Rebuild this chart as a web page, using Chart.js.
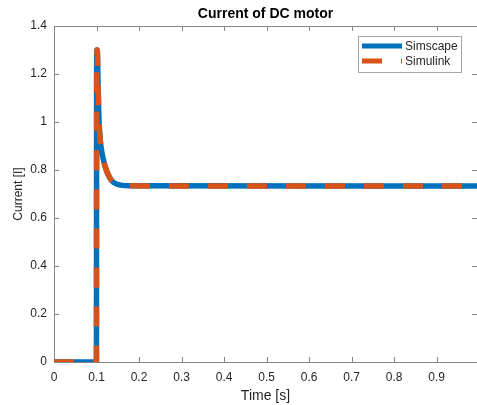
<!DOCTYPE html>
<html>
<head>
<meta charset="utf-8">
<script src="https://cdn.jsdelivr.net/npm/chart.js@4"></script>
<style>
  html, body { margin: 0; padding: 0; background: #fff; overflow: hidden; }
  #wrap { width: 477px; height: 405px; }
</style>
</head>
<body>
<div id="wrap"><canvas id="graphCourant" width="477" height="405"></canvas></div>
<script>
// ===== DONNÉES =====
var timeS = [0, 0.0998, 0.1003, 0.101, 0.1018, 0.1025, 0.1035, 0.1048, 0.106, 0.109, 0.113, 0.118, 0.123, 0.129, 0.136, 0.145, 0.157, 0.175, 0.995];
var currentSimscape = [0, 0, 1.22, 1.30, 1.30, 1.26, 1.17, 1.07, 1.00, 0.92, 0.87, 0.83, 0.80, 0.775, 0.755, 0.743, 0.737, 0.734, 0.733];
var currentSimulink = [0, 0, 1.22, 1.30, 1.30, 1.26, 1.17, 1.07, 1.00, 0.92, 0.87, 0.83, 0.80, 0.775, 0.755, 0.743, 0.737, 0.734, 0.733];
var xTicks = [0, 0.1, 0.2, 0.3, 0.4, 0.5, 0.6, 0.7, 0.8, 0.9];
var yTicks = [0, 0.2, 0.4, 0.6, 0.8, 1, 1.2, 1.4];

var BLEU = '#0072BD';
var ORANGE = '#D95319';
var POLICE = '"Liberation Sans", Arial, Helvetica, sans-serif';

function points(xs, ys) {
    return xs.map(function (x, i) { return { x: x, y: ys[i] }; });
}

// ---- cadre, graduations intérieures, titre et légende ----
var cadrePlugin = {
    id: 'cadre',
    beforeDatasetsDraw: function (chart) {
        var ctx = chart.ctx, ca = chart.chartArea;
        var sx = chart.scales.x, sy = chart.scales.y;
        ctx.save();
        ctx.strokeStyle = '#858585';
        ctx.lineWidth = 1;
        ctx.beginPath();
        ctx.moveTo(ca.left, ca.top + 0.5);
        ctx.lineTo(ca.right, ca.top + 0.5);
        sx.ticks.forEach(function (t) {
            var px = Math.round(sx.getPixelForValue(t.value)) + 0.5;
            ctx.moveTo(px, ca.bottom); ctx.lineTo(px, ca.bottom - 5);
            ctx.moveTo(px, ca.top); ctx.lineTo(px, ca.top + 5);
        });
        sy.ticks.forEach(function (t) {
            var py = Math.round(sy.getPixelForValue(t.value)) + 0.5;
            ctx.moveTo(ca.left, py); ctx.lineTo(ca.left + 5, py);
            ctx.moveTo(ca.right, py); ctx.lineTo(ca.right - 5, py);
        });
        ctx.stroke();
        ctx.restore();
    },
    afterDraw: function (chart) {
        var ctx = chart.ctx, ca = chart.chartArea;
        ctx.save();
        // titre
        ctx.fillStyle = '#000';
        ctx.font = 'bold 14px ' + POLICE;
        ctx.textAlign = 'center';
        ctx.textBaseline = 'middle';
        ctx.fillText('Current of DC motor', (ca.left + ca.right) / 2, 14);

        // légende
        var bx = 358, by = 36, bw = 103, bh = 36;
        ctx.fillStyle = '#fff';
        ctx.fillRect(bx, by, bw, bh);
        ctx.strokeStyle = '#a6a6a6';
        ctx.lineWidth = 1;
        ctx.strokeRect(bx + 0.5, by + 0.5, bw, bh);
        ctx.font = '12px ' + POLICE;
        ctx.textAlign = 'left';
        chart.data.datasets.forEach(function (ds, i) {
            var y = by + 10 + i * 15;
            ctx.strokeStyle = ds.borderColor;
            ctx.lineWidth = 5;
            ctx.lineCap = 'butt';
            ctx.lineDashOffset = 0;
            ctx.setLineDash(ds.borderDash || []);
            ctx.beginPath();
            ctx.moveTo(362, y);
            ctx.lineTo(402, y);
            ctx.stroke();
            ctx.setLineDash([]);
            ctx.fillStyle = '#262626';
            ctx.fillText(ds.label, 405, y + 0.5);
        });
        ctx.restore();
    }
};

new Chart(document.getElementById('graphCourant'), {
    type: 'scatter',
    data: {
        datasets: [
            {
                label: 'Simscape',
                data: points(timeS, currentSimscape),
                showLine: true,
                borderColor: BLEU,
                backgroundColor: BLEU,
                borderWidth: 5.5,
                pointRadius: 0,
                cubicInterpolationMode: 'monotone',
                order: 1
            },
            {
                label: 'Simulink',
                data: points(timeS, currentSimulink),
                showLine: true,
                borderColor: ORANGE,
                backgroundColor: ORANGE,
                borderWidth: 5.5,
                borderDash: [20, 19],
                pointRadius: 0,
                cubicInterpolationMode: 'monotone',
                order: 0
            }
        ]
    },
    options: {
        responsive: false,
        animation: false,
        layout: { padding: { top: 26, right: 0, left: 0, bottom: 0 } },
        plugins: {
            legend: { display: false },
            title: { display: false },
            tooltip: { enabled: false }
        },
        scales: {
            x: {
                type: 'linear',
                min: 0,
                max: 0.995,
                afterFit: function (s) { s.height = 43; },
                afterBuildTicks: function (s) {
                    s.ticks = xTicks.map(function (v) { return { value: v }; });
                },
                grid: { drawOnChartArea: false, drawTicks: false },
                border: { color: '#858585', width: 1 },
                ticks: {
                    padding: 8,
                    color: '#262626',
                    font: { family: POLICE, size: 12 },
                    callback: function (v) { return String(v); }
                },
                title: {
                    display: true,
                    text: 'Time [s]',
                    color: '#262626',
                    font: { family: POLICE, size: 14 },
                    padding: { top: 0, bottom: 0 }
                }
            },
            y: {
                type: 'linear',
                min: 0,
                max: 1.4,
                afterFit: function (s) { s.width = 54; },
                afterBuildTicks: function (s) {
                    s.ticks = yTicks.map(function (v) { return { value: v }; });
                },
                grid: { drawOnChartArea: false, drawTicks: false },
                border: { color: '#858585', width: 1 },
                ticks: {
                    padding: 7,
                    color: '#262626',
                    font: { family: POLICE, size: 12 },
                    callback: function (v) { return String(v); }
                },
                title: {
                    display: true,
                    text: 'Current [I]',
                    color: '#262626',
                    font: { family: POLICE, size: 12 },
                    padding: { top: 11, bottom: 0 }
                }
            }
        }
    },
    plugins: [cadrePlugin]
});
</script>
</body>
</html>
